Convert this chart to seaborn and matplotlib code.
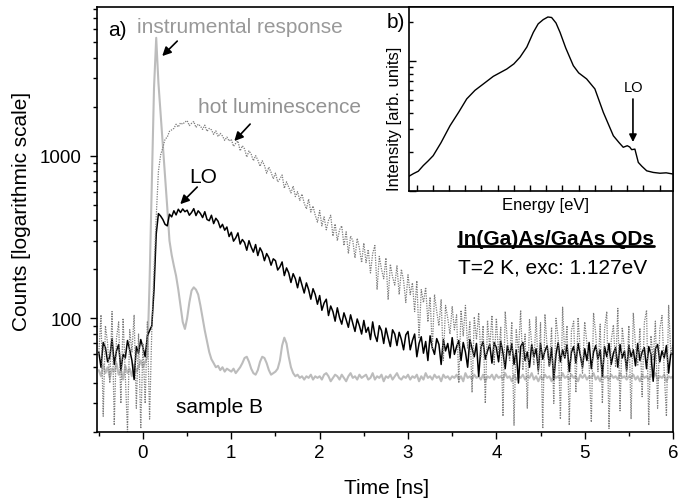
import numpy as np
import pandas as pd
import matplotlib
matplotlib.use("Agg")
import matplotlib.pyplot as plt
import seaborn as sns
from matplotlib.ticker import MultipleLocator, LogLocator, NullFormatter, FuncFormatter, NullLocator
from matplotlib.lines import Line2D

sns.set_style("ticks")
plt.rcParams['font.family'] = ['Liberation Sans', 'DejaVu Sans']
plt.rcParams['text.color'] = 'black'
plt.rcParams['axes.labelcolor'] = 'black'
plt.rcParams['xtick.color'] = 'black'
plt.rcParams['ytick.color'] = 'black'

# ---------------- data ----------------
time_ns = np.linspace(-0.5, 6.0, 261)   # sampling grid, 0.025 ns

lo_counts = [
    62, 50, 71, 66, 54, 58, 75, 52, 63, 69, 48, 60, 57, 73, 64, 55, 42, 67, 61, 74,
    66, 58, 78, 84, 90, 150, 330, 440, 425, 405, 378, 370, 436, 420, 458, 432, 468, 447, 470, 452,
    462, 430, 447, 472, 428, 458, 441, 416, 452, 405, 398, 430, 382, 412, 395, 360, 378, 348, 364, 318,
    338, 298, 312, 335, 286, 305, 292, 262, 300, 274, 255, 284, 243, 271, 255, 226, 250, 236, 212, 232,
    226, 198, 207, 222, 183, 204, 190, 166, 188, 175, 154, 179, 160, 143, 165, 150, 131, 152, 140, 122,
    138, 112, 124, 131, 104, 119, 110, 96, 116, 101, 92, 108, 98, 88, 105, 93, 83, 99, 90, 80,
    97, 82, 88, 74, 95, 79, 72, 90, 84, 70, 87, 76, 67, 85, 80, 68, 82, 74, 64, 79,
    83, 64, 73, 80, 58, 70, 77, 61, 72, 55, 78, 66, 60, 75, 69, 52, 74, 63, 70, 57,
    76, 60, 67, 73, 55, 71, 62, 50, 74, 65, 58, 70, 44, 66, 72, 56, 63, 69, 53, 71,
    66, 54, 72, 61, 49, 68, 59, 70, 52, 64, 40, 67, 71, 55, 62, 50, 69, 58, 65, 48,
    70, 56, 63, 68, 51, 66, 42, 60, 71, 54, 64, 57, 69, 47, 62, 67, 53, 70, 59, 50,
    65, 55, 71, 49, 62, 68, 56, 64, 44, 67, 58, 70, 52, 61, 66, 50, 69, 57, 63, 48,
    68, 58, 64, 51, 70, 55, 62, 66, 49, 67, 60, 41, 65, 69, 54, 63, 57, 68, 46, 61,
    60,
]

hot_counts = [
    60, 105, 25, 90, 70, 40, 110, 22, 75, 95, 30, 100, 45, 20, 85, 62, 105, 28, 80, 21,
    70, 30, 95, 24, 85, 200, 420, 800, 1010, 1120, 1260, 1300, 1410, 1440, 1470, 1560, 1500, 1590, 1560, 1610,
    1640, 1530, 1580, 1620, 1490, 1560, 1520, 1450, 1540, 1410, 1470, 1440, 1350, 1420, 1310, 1370, 1320, 1240, 1300, 1230,
    1260, 1140, 1190, 1230, 1070, 1150, 1100, 980, 1070, 1020, 930, 1000, 940, 860, 930, 870, 780, 850, 790, 720,
    780, 690, 720, 760, 630, 690, 640, 590, 650, 560, 600, 530, 580, 510, 470, 540, 450, 490, 430, 390,
    460, 370, 420, 350, 400, 430, 320, 380, 300, 350, 370, 280, 340, 250, 320, 300, 235, 310, 270, 220,
    290, 220, 265, 190, 250, 280, 150, 240, 200, 175, 235, 130, 215, 180, 160, 210, 140, 200, 170, 125,
    185, 140, 165, 110, 170, 75, 150, 125, 155, 95, 135, 65, 140, 110, 90, 130, 55, 120, 100, 80,
    118, 85, 105, 40, 112, 78, 120, 65, 95, 35, 102, 74, 108, 58, 90, 30, 97, 66, 104, 52,
    100, 60, 88, 25, 110, 72, 55, 95, 22, 85, 62, 112, 48, 80, 28, 98, 70, 52, 102, 45,
    94, 21, 106, 66, 50, 88, 30, 100, 75, 24, 117, 58, 90, 22, 84, 96, 35, 101, 62, 46,
    95, 70, 52, 23, 108, 80, 47, 92, 30, 86, 110, 21, 73, 91, 50, 115, 27, 88, 64, 44,
    90, 24, 108, 68, 51, 87, 33, 94, 112, 22, 78, 55, 96, 28, 86, 104, 47, 25, 120, 60,
    70,
]

irf_counts = [
    48, 44, 52, 46, 50, 43, 49, 47, 53, 45, 48, 42, 51, 46, 49, 44, 52, 47, 50, 55,
    50, 54, 58, 170, 660, 2600, 5300, 2800, 1800, 1170, 750, 480, 300, 245, 210, 182, 150, 120, 95, 86,
    100, 125, 148, 155, 150, 140, 120, 100, 84, 72, 62, 56, 53, 50, 51, 48, 50, 47, 49, 48,
    47, 49, 46, 48, 50, 53, 57, 58, 54, 49, 46, 45, 48, 54, 58, 57, 53, 48, 45, 46,
    47, 49, 55, 68, 76, 70, 58, 50, 46, 44, 45, 43, 44, 42, 44, 43, 45, 42, 44, 43,
    44, 42, 45, 46, 44, 41, 43, 45, 44, 42, 45, 43, 41, 44, 46, 43, 44, 42, 45, 43,
    44, 45, 42, 43, 46, 42, 44, 43, 45, 41, 44, 43, 45, 42, 44, 46, 43, 42, 44, 43,
    45, 42, 44, 43, 45, 41, 44, 42, 46, 43, 44, 42, 45, 43, 44, 41, 45, 43, 44, 42,
    44, 43, 45, 42, 44, 41, 46, 43, 44, 42, 45, 43, 44, 42, 45, 41, 44, 43, 45, 42,
    45, 43, 44, 42, 46, 43, 44, 41, 45, 42, 44, 43, 45, 42, 44, 43, 46, 42, 44, 41,
    44, 42, 45, 43, 44, 41, 45, 43, 44, 42, 46, 43, 44, 42, 45, 43, 44, 41, 45, 43,
    45, 42, 44, 43, 46, 42, 44, 41, 45, 43, 44, 42, 45, 43, 44, 42, 46, 43, 44, 42,
    44, 43, 45, 42, 44, 41, 45, 43, 44, 42, 45, 43, 46, 42, 44, 43, 45, 41, 44, 43,
    44,
]

energy_ev = [0.9453, 0.9480, 0.9510, 0.9541, 0.9570, 0.9602, 0.9650, 0.9706, 0.9760, 0.9809,
             0.9860, 0.9911, 0.9973, 1.0056, 1.0100, 1.0138, 1.0180, 1.0220, 1.0250, 1.0281,
             1.0310, 1.0333, 1.0360, 1.0385, 1.0420, 1.0467, 1.0500, 1.0549, 1.0600, 1.0652,
             1.0714, 1.0750, 1.0775, 1.0800, 1.0815, 1.0827, 1.0847, 1.0868, 1.0890, 1.0920,
             1.0960, 1.1002, 1.1040, 1.1084]
pl_intensity = [1.30, 1.36, 1.42, 1.57, 1.70, 1.87, 2.35, 3.18, 4.05, 5.11,
                5.95, 6.65, 7.62, 8.67, 9.5, 10.7, 12.8, 16.6, 19.3, 20.8,
                21.8, 21.6, 19.6, 16.6, 12.6, 9.2, 8.1, 7.28, 6.10, 4.03,
                2.66, 2.35, 2.17, 2.23, 2.18, 2.08, 2.10, 1.66, 1.55, 1.43,
                1.39, 1.37, 1.38, 1.35]

y_major_ticks = [100, 1000]

main_df = pd.DataFrame({"t": time_ns, "lo": lo_counts, "hot": hot_counts, "irf": irf_counts})
inset_df = pd.DataFrame({"E": energy_ev, "I": pl_intensity})

# ---------------- figure ----------------
fig = plt.figure(figsize=(6.78, 5.02), dpi=100)
ax = fig.add_axes([0.1431, 0.1375, 0.8496, 0.8466])

sns.lineplot(data=main_df, x="t", y="irf", ax=ax, color="#bcbcbc", lw=1.5,
             estimator=None, sort=False)
sns.lineplot(data=main_df, x="t", y="lo", ax=ax, color="black", lw=1.1,
             estimator=None, sort=False)
sns.lineplot(data=main_df, x="t", y="hot", ax=ax, color="#7d7d7d", lw=0.9,
             linestyle=(0, (1, 1)), estimator=None, sort=False)

ax.set_yscale("log")
ax.set_ylim(20, 8200)
ax.set_xlim(-0.52, 6.0)
ax.set_yticks(y_major_ticks)
ax.yaxis.set_major_formatter(FuncFormatter(lambda v, p: f"{int(round(v))}"))
ax.yaxis.set_minor_locator(LogLocator(base=10, subs=np.arange(2, 10)))
ax.yaxis.set_minor_formatter(NullFormatter())
ax.xaxis.set_major_locator(MultipleLocator(1))
ax.xaxis.set_minor_locator(MultipleLocator(0.5))

for s in ax.spines.values():
    s.set_color("black")
    s.set_linewidth(1.2)
ax.tick_params(axis="both", which="major", direction="out", length=5, width=1,
               labelsize=13.5, top=False, right=False, color="black", labelcolor="black")
ax.tick_params(axis="x", which="major", pad=3.5)
ax.tick_params(axis="y", which="major", pad=6)
ax.tick_params(axis="both", which="minor", direction="out", length=3, width=1,
               top=False, right=False, color="black")

ax.set_xlabel("Time [ns]", fontsize=15, color="black")
ax.set_ylabel("Counts [logarithmic scale]", fontsize=15, color="black")
ax.xaxis.set_label_coords(0.503, -0.108)
ax.yaxis.set_label_coords(-0.114, 0.522)

# annotations
tk = dict(transform=ax.transAxes, ha="left", va="center", fontsize=15)
ax.text(0.019, 0.948, "a)", color="black", **tk)
ax.text(0.069, 0.955, "instrumental response", color="#999999", **tk)
ax.text(0.175, 0.765, "hot luminescence", color="#939393", **tk)
ax.text(0.160, 0.600, "LO", color="black", **tk)
ax.text(0.137, 0.061, "sample B", color="black", **tk)
title_t = ax.text(0.627, 0.456, "In(Ga)As/GaAs QDs", color="black", fontweight="bold", **tk)
ax.text(0.627, 0.388, "T=2 K, exc: 1.127eV", color="black", **tk)
ax.text(0.503, 0.965, "b)", color="black", **tk)

arr = dict(arrowstyle="-|>", color="black", lw=1.2, mutation_scale=13, shrinkA=0, shrinkB=0)
ax.annotate("", xy=(0.218, 4095), xytext=(0.388, 5060), arrowprops=arr)
ax.annotate("", xy=(1.034, 1229), xytext=(1.213, 1563), arrowprops=arr)
ax.annotate("", xy=(0.422, 503), xytext=(0.614, 641), arrowprops=arr)

# ---------------- inset ----------------
axin = fig.add_axes([0.6032, 0.6175, 0.3894, 0.3665])
axin.set_facecolor("white")
sns.lineplot(data=inset_df, x="E", y="I", ax=axin, color="black", lw=1.0,
             estimator=None, sort=False)
axin.set_yscale("log")
axin.set_ylim(1.0, 26)
axin.set_xlim(0.94525, 1.10821)
axin.xaxis.set_major_locator(MultipleLocator(0.01))
axin.xaxis.set_minor_locator(NullLocator())
axin.yaxis.set_major_locator(LogLocator(base=10))
axin.yaxis.set_minor_locator(LogLocator(base=10, subs=np.arange(2, 10)))
axin.tick_params(axis="both", which="both", direction="in", labelleft=False,
                 labelbottom=False, top=False, right=False, color="black", width=1)
axin.tick_params(axis="both", which="major", length=5)
axin.tick_params(axis="both", which="minor", length=3)
axin.tick_params(axis="x", which="major", length=4)
for s in axin.spines.values():
    s.set_color("black")
    s.set_linewidth(1.2)
axin.set_xlabel("Energy [eV]", fontsize=12, color="black")
axin.set_ylabel("Intensity [arb. units]", fontsize=12, color="black")
axin.xaxis.set_label_coords(0.517, -0.035)
axin.yaxis.set_label_coords(-0.025, 0.40)
axin.text(0.852, 0.565, "LO", transform=axin.transAxes, ha="center", va="center", fontsize=10.5)
axin.annotate("", xy=(1.0835, 2.38), xytext=(1.0835, 5.1),
              arrowprops=dict(arrowstyle="-|>", color="black", lw=1.2, mutation_scale=11,
                              shrinkA=0, shrinkB=0))

# underline for the bold label
fig.canvas.draw()
bb = title_t.get_window_extent(fig.canvas.get_renderer())
W, H = fig.bbox.width, fig.bbox.height
yline = (bb.y0 + 1.5) / H
fig.add_artist(Line2D([bb.x0 / W, bb.x1 / W], [yline, yline], color="black", lw=2.0))

fig.savefig("out.png", dpi=100)
